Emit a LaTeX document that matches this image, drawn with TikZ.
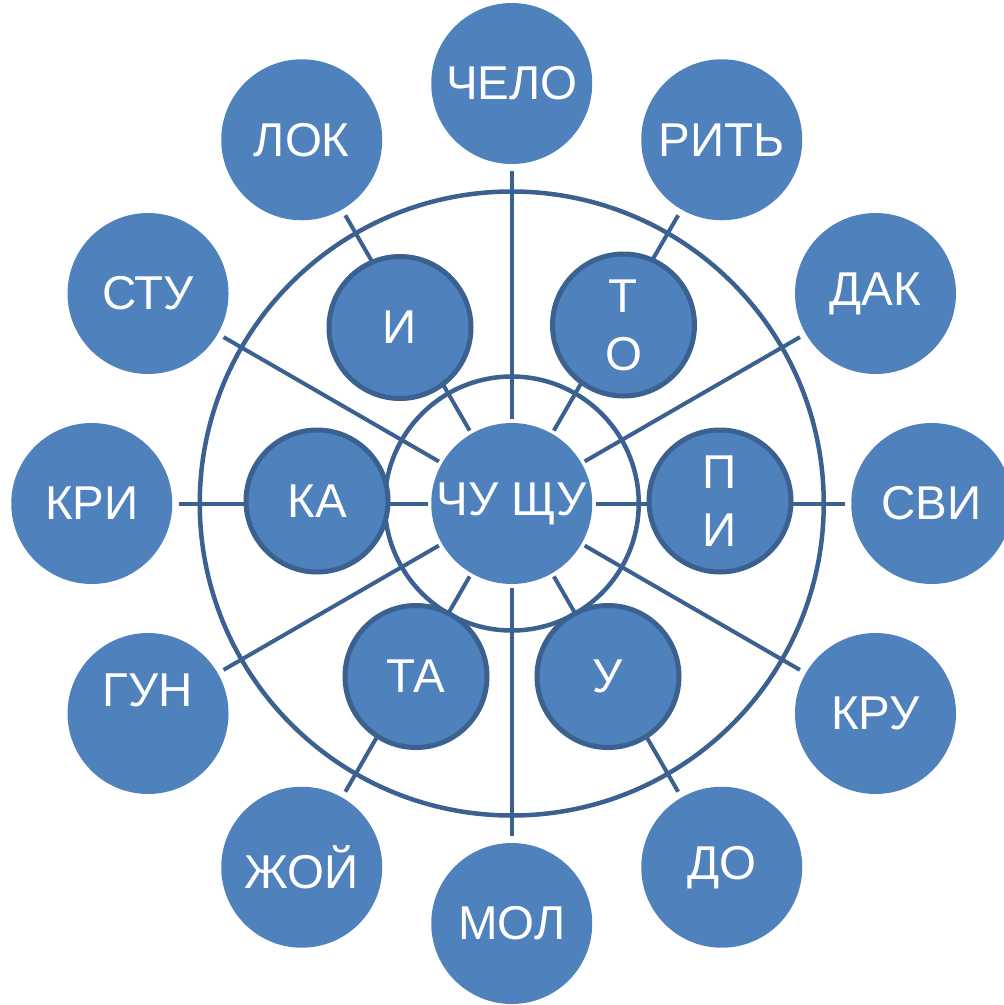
\documentclass[tikz,border=0pt]{standalone}
\usepackage{fontspec}
\setmainfont{Liberation Sans}
\definecolor{fillblue}{RGB}{79,129,189}
\definecolor{lineblue}{RGB}{59,97,145}
\pgfdeclarelayer{background}
\pgfsetlayers{background,main}
\begin{document}
\begin{tikzpicture}[x=1pt,y=-1pt,
  lbl/.style={text=white,font=\fontsize{47.5}{58}\selectfont,align=center},
  outerc/.style={circle,fill=fillblue,minimum size=161pt,inner sep=0pt,lbl},
  midc/.style={circle,fill=fillblue,draw=lineblue,line width=5pt,minimum size=142pt,inner sep=0pt,lbl},
  ray/.style={draw=lineblue,line width=4pt,shorten <=3.5pt,shorten >=6.5pt},
  ringline/.style={draw=lineblue,line width=4.5pt}]
\useasboundingbox (0,0) rectangle (1004,1005);
\clip (0,0) rectangle (1004,1005);
% centre
\coordinate (C) at (511.75,503.5);
\node[outerc] (hub) at (C) {\makebox[0pt]{ЧУ ЩУ}};
% outer circles
\node[outerc] (chelo) at (511.75,83.5) {ЧЕЛО};
\node[outerc] (rit) at (721.75,139.77) {РИТЬ};
\node[outerc] (dak) at (875.48,293.5) {ДАК};
\node[outerc] (svi) at (931.75,503.5) {СВИ};
\node[outerc] (kru) at (875.48,713.5) {КРУ};
\node[outerc] (do) at (721.75,867.23) {ДО};
\node[outerc] (mol) at (511.75,923.5) {МОЛ};
\node[outerc] (zhoy) at (301.75,867.23) {ЖОЙ};
\node[outerc,label={[lbl,yshift=23pt]center:ГУН}] (gun) at (148.02,713.5) {};
\node[outerc] (kri) at (91.75,503.5) {КРИ};
\node[outerc] (stu) at (148.02,293.5) {СТУ};
\node[outerc] (lok) at (301.75,139.77) {ЛОК};
% middle circles
\node[midc] (mi) at (400,327.5) {И};
\node[midc] (mto) at (623.5,325) {Т\\О};
\node[midc] (mpi) at (720,501) {П\\И};
\node[midc] (mu) at (608,676.5) {У};
\node[midc] (mta) at (416,676.5) {ТА};
\node[midc] (mka) at (317,501) {КА};
\begin{pgfonlayer}{background}
  \draw[ringline] (C) circle[radius=312];
  \draw[ringline] (C) circle[radius=127];
  \foreach \t in {chelo,rit,dak,svi,kru,do,mol,zhoy,gun,kri,stu,lok}
    \draw[ray] (hub) -- (\t);
\end{pgfonlayer}
\end{tikzpicture}
\end{document}
